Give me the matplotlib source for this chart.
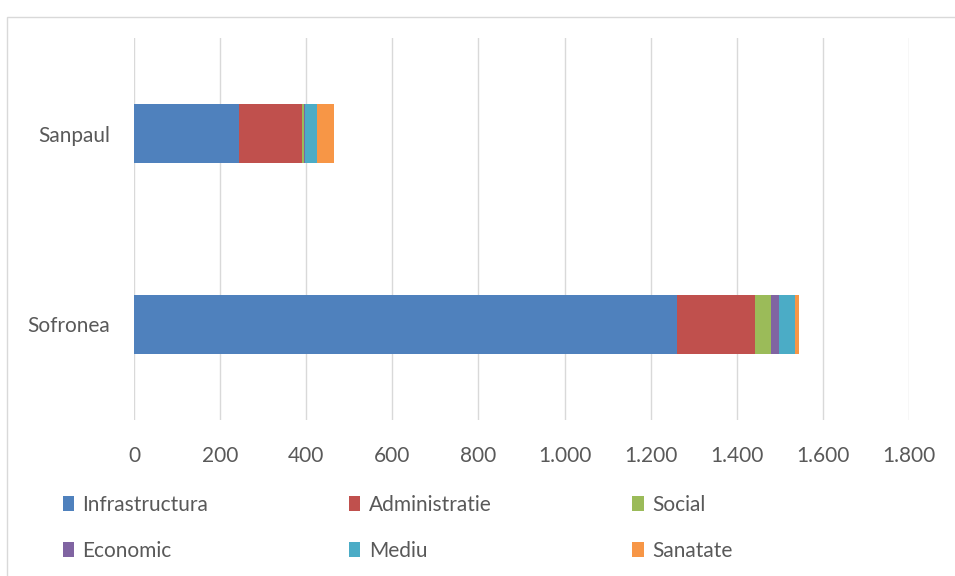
import matplotlib
matplotlib.use("Agg")
import matplotlib.pyplot as plt
from matplotlib.ticker import FuncFormatter
from matplotlib.patches import Rectangle
import numpy as np

# date
localitati = ["Sanpaul", "Sofronea"]
domenii = ["Infrastructura", "Administratie", "Social", "Economic", "Mediu", "Sanatate"]
infrastructura = [243, 1262]
administratie = [147, 181]
social = [4, 37]
economic = [4, 18]
mediu = [28, 37]
sanatate = [38, 10]
culori = ["#4F81BD", "#C0504D", "#9BBB59", "#8064A2", "#4BACC6", "#F79646"]

serii = [infrastructura, administratie, social, economic, mediu, sanatate]

plt.rcParams["font.family"] = ["Lato", "DejaVu Sans"]
text_col = "#595959"

fig = plt.figure(figsize=(9.55, 5.76), dpi=100)
ax = fig.add_axes([134/955, 1-420/576, 775/955, 382/576])

y = np.arange(len(localitati))
left = np.zeros(len(localitati))
for nume, val, c in zip(domenii, serii, culori):
    ax.barh(y, val, left=left, height=0.31, color=c, label=nume, zorder=3)
    left += np.array(val)

ax.set_xlim(0, 1800)
ax.set_ylim(-0.5, 1.5)
ax.invert_yaxis()
ax.set_xticks(np.arange(0, 1801, 200))
ax.xaxis.set_major_formatter(FuncFormatter(lambda v, p: f"{int(v):,}".replace(",", ".")))
ax.set_yticks(y)
ax.set_yticklabels(localitati)
ax.grid(axis="x", color="#d9d9d9", linewidth=1, zorder=0)
for s in ax.spines.values():
    s.set_visible(False)
ax.tick_params(length=0, labelsize=15, colors=text_col)
ax.tick_params(axis="x", pad=19)
ax.tick_params(axis="y", pad=17)

# chenarul graficului
fig.patches.append(Rectangle((7/955, -0.1), 1.2, 1 - 17/576 + 0.1, transform=fig.transFigure,
                             fill=False, edgecolor="#d9d9d9", linewidth=1))

# legenda pe randuri (3 coloane)
h, l = ax.get_legend_handles_labels()
ordine = [0, 3, 1, 4, 2, 5]
leg = fig.legend([h[i] for i in ordine], [l[i] for i in ordine], ncol=3, loc="upper left",
                 bbox_to_anchor=(44/955, 1-476/576),
                 frameon=False, fontsize=15, handlelength=0.55, handleheight=0.75,
                 handletextpad=0.4, columnspacing=6.75, labelspacing=1.25)
for t in leg.get_texts():
    t.set_color(text_col)

fig.savefig("out.png", dpi=100)
